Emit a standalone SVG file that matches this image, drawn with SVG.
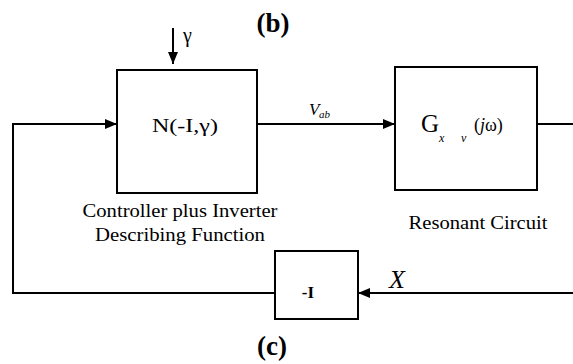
<svg xmlns="http://www.w3.org/2000/svg" width="573" height="364" viewBox="0 0 573 364">
<defs>
<marker id="ah" viewBox="0 0 12 10" refX="12" refY="5" markerWidth="12" markerHeight="10" markerUnits="userSpaceOnUse" orient="auto">
<path d="M0,0 L12,5 L0,10 Z" fill="#000"/>
</marker>
</defs>
<style>
.box{fill:#fff;stroke:#000;stroke-width:2}
.ln{fill:none;stroke:#000;stroke-width:2}
.t{font-family:"Liberation Serif",serif;fill:#000}
.cap{font-family:"Liberation Serif",serif;font-size:19px;fill:#000}
.lbl{font-family:"Liberation Serif",serif;font-weight:bold;font-size:27px;fill:#000}
.it{font-style:italic}
</style>
<rect width="573" height="364" fill="#fff"/>
<text class="lbl" x="273" y="32" text-anchor="middle">(b)</text>
<text class="lbl" x="272" y="355" text-anchor="middle">(c)</text>
<g id="connectors">
<path class="ln" d="M173,28 V64" marker-end="url(#ah)"/>
<path class="ln" d="M257,124 H395" marker-end="url(#ah)"/>
<path class="ln" d="M537,124 H576 V293 H358" marker-end="url(#ah)"/>
<path class="ln" d="M275,293 H13 V124 H117" marker-end="url(#ah)"/>
<text class="t" x="183" y="42" font-size="20">γ</text>
<text class="t it" x="309" y="115" font-size="17">V</text>
<text class="t it" x="319" y="118" font-size="11">ab</text>
<text class="t it" x="389" y="288" font-size="26">X</text>
</g>
<g id="controller">
<rect class="box" x="117" y="70" width="140" height="123"/>
<text class="t" x="152" y="132" font-size="19" textLength="66" lengthAdjust="spacingAndGlyphs">N(-I,γ)</text>
<text class="cap" x="180" y="217" text-anchor="middle" textLength="195" lengthAdjust="spacingAndGlyphs">Controller plus Inverter</text>
<text class="cap" x="180" y="241" text-anchor="middle" textLength="170" lengthAdjust="spacingAndGlyphs">Describing Function</text>
</g>
<g id="resonant">
<rect class="box" x="395" y="67" width="142" height="123"/>
<text class="t" x="421" y="132" font-size="25">G</text>
<text class="t it" x="439" y="142" font-size="12">x</text>
<text class="t it" x="461" y="142" font-size="12">v</text>
<text class="t" x="474" y="131" font-size="18">(<tspan font-style="italic">j</tspan>ω)</text>
<text class="cap" x="478" y="229" text-anchor="middle" textLength="139" lengthAdjust="spacingAndGlyphs">Resonant Circuit</text>
</g>
<g id="gain">
<rect class="box" x="275" y="251" width="83" height="68"/>
<text class="t" x="308" y="298" font-size="17" font-weight="bold" text-anchor="middle">-I</text>
</g>
</svg>
